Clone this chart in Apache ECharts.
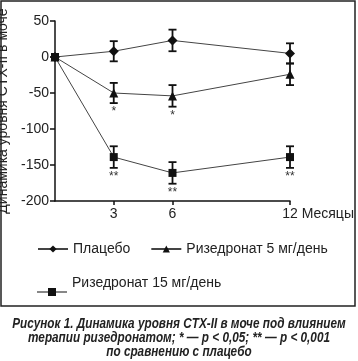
<!DOCTYPE html>
<html><head><meta charset="utf-8">
<script src="https://cdn.jsdelivr.net/npm/echarts@6/dist/echarts.min.js"></script>
<style>html,body{margin:0;padding:0;background:#fff}#c{width:358px;height:361px}</style>
</head><body><div id="c"></div>
<script>
const months = [0, 3, 6, 12];
const xTicks = [3, 6, 12];
const placebo = [0, 8, 23, 5];
const placeboErr = [0, 14, 15, 14];
const rise5 = [0, -50, -54, -24];
const rise5Err = [0, 14, 15, 15];
const rise15 = [0, -139, -161, -139];
const rise15Err = [0, 15, 15, 15];
const sig5 = ['', '*', '*', ''];
const sig15 = ['', '**', '**', '**'];
const names = ['Плацебо', 'Ризедронат 5 мг/день', 'Ризедронат 15 мг/день'];
const captionLines = [
  'Рисунок 1. Динамика уровня CTX-II в моче под влиянием',
  'терапии ризедронатом; * — p < 0,05; ** — p < 0,001',
  'по сравнению с плацебо'
];

const font = "'Liberation Sans', Arial, sans-serif";
const chart = echarts.init(document.getElementById('c'));

function lineSeries(name, vals, symbol, size) {
  return {
    name, type: 'line', data: months.map((m, i) => [m, vals[i]]),
    symbol, symbolSize: size,
    lineStyle: { color: '#444', width: 1 },
    itemStyle: { color: '#111' },
    z: 3
  };
}
function errSeries(vals, errs, sigs) {
  return {
    type: 'custom', silent: true, z: 4,
    data: months.map((m, i) => [m, vals[i], errs[i]]),
    renderItem(params, api) {
      const x = api.value(0), y = api.value(1), e = api.value(2);
      const s = sigs[params.dataIndex];
      if (!e) return null;
      const t = api.coord([x, y + e]), b = api.coord([x, y - e]);
      const st = { stroke: '#111', lineWidth: 1.8 };
      const children = [
        { type: 'line', shape: { x1: t[0], y1: t[1], x2: b[0], y2: b[1] }, style: st },
        { type: 'line', shape: { x1: t[0] - 4, y1: t[1], x2: t[0] + 4, y2: t[1] }, style: st },
        { type: 'line', shape: { x1: b[0] - 4, y1: b[1], x2: b[0] + 4, y2: b[1] }, style: st }
      ];
      if (s) children.push({ type: 'text', style: { text: s, x: b[0], y: b[1] + 3, align: 'center', verticalAlign: 'top', fill: '#333', font: '12px ' + font } });
      return { type: 'group', children };
    }
  };
}

chart.setOption({
  animation: false,
  grid: { left: 55, right: 68, top: 21, bottom: 160, containLabel: false, outerBoundsMode: 'none' },
  xAxis: {
    type: 'value', min: 0, max: 12, interval: 3,
    name: 'Месяцы', nameLocation: 'end', nameGap: 10,
    nameTextStyle: { fontFamily: font, fontSize: 14, color: '#222', verticalAlign: 'top', padding: [6, 0, 0, 0] },
    axisLine: { onZero: false, lineStyle: { color: '#111', width: 1.5 } },
    axisTick: { customValues: xTicks, length: 4, lineStyle: { color: '#111', width: 1.5 } },
    axisLabel: { customValues: xTicks, fontFamily: font, fontSize: 14, color: '#222', margin: 6 },
    splitLine: { show: false }
  },
  yAxis: {
    type: 'value', min: -200, max: 50, interval: 50,
    name: 'Динамика уровня CTX-II в моче', nameLocation: 'middle', nameGap: 42,
    nameTextStyle: { fontFamily: font, fontSize: 14, color: '#222' },
    axisLine: { show: true, lineStyle: { color: '#111', width: 1.5 } },
    axisTick: { show: true, length: 5, lineStyle: { color: '#111', width: 1.5 } },
    axisLabel: { fontFamily: font, fontSize: 14, color: '#222', margin: 6 },
    splitLine: { show: false }
  },
  legend: [
    { data: [names[0], names[1]], left: 37, top: 242, itemWidth: 30, itemHeight: 9, itemGap: 20, padding: 0,
      textStyle: { fontFamily: font, fontSize: 14, color: '#222' } },
    { data: [{ name: names[2], icon: 'path://M0,0h0.01v0.01h-0.01Z M0,21.5h30v1h-30Z M11,18h8v8h-8Z' }],
      left: 37, top: 270, itemWidth: 30, itemHeight: 26, padding: 0,
      textStyle: { fontFamily: font, fontSize: 14, color: '#222' } }
  ],
  graphic: [
    { type: 'rect', shape: { x: 1, y: 1, width: 354, height: 305 }, style: { fill: 'none', stroke: '#222', lineWidth: 1.5 }, silent: true },
    ...captionLines.map((t, i) => ({
      type: 'text', x: 179, y: 324 + i * 14, scaleX: 0.84,
      style: { text: t, fill: '#222', align: 'center', verticalAlign: 'middle', font: "italic bold 14px 'Liberation Sans', Arial, sans-serif" }
    }))
  ],
  series: [
    lineSeries(names[0], placebo, 'diamond', 10),
    lineSeries(names[1], rise5, 'triangle', 9),
    lineSeries(names[2], rise15, 'rect', 8),
    errSeries(placebo, placeboErr, ['', '', '', '']),
    errSeries(rise5, rise5Err, sig5),
    errSeries(rise15, rise15Err, sig15)
  ]
});
</script></body></html>
